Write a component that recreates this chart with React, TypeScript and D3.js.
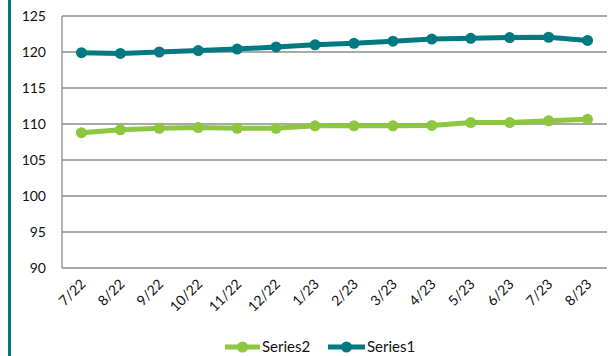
import React from "react";
import * as d3 from "d3";

const categories = ["7/22","8/22","9/22","10/22","11/22","12/22","1/23","2/23","3/23","4/23","5/23","6/23","7/23","8/23"];
const series1 = [119.9,119.8,120.0,120.2,120.4,120.7,121.0,121.2,121.5,121.8,121.9,122.0,122.05,121.6];
const series2 = [108.8,109.2,109.4,109.5,109.4,109.4,109.75,109.75,109.75,109.8,110.2,110.2,110.45,110.65];
const yTicks = [90,95,100,105,110,115,120,125];

const W = 608, H = 356;
const left = 62, right = 607, top = 16, bottom = 268;
const teal = "#007A80";
const green = "#8DC63F";
const font = "'Lato', 'Open Sans', sans-serif";

export default function App() {
  const x = d3.scaleBand<string>().domain(categories).range([left, right]);
  const y = d3.scaleLinear().domain([90, 125]).range([bottom, top]);
  const cx = (c: string) => (x(c) as number) + x.bandwidth() / 2;
  const line = d3.line<number>().x((_, i) => cx(categories[i])).y(d => y(d));
  const series = [
    { name: "Series2", color: green, values: series2 },
    { name: "Series1", color: teal, values: series1 },
  ];
  const legend = [
    { name: "Series2", color: green, x0: 225, x1: 260, tx: 262 },
    { name: "Series1", color: teal, x0: 328, x1: 365, tx: 367 },
  ];
  return (
    <svg width={W} height={H} style={{ position: "absolute", left: 0, top: 0, background: "#fff" }} fontFamily={font}>
      <rect x={8} y={0} width={3} height={H} fill={teal} />
      {yTicks.map(t => (
        <g key={t}>
          <line x1={left} x2={right} y1={y(t)} y2={y(t)} stroke="#8c8c8c" strokeWidth={1.3} />
          <text x={46} y={y(t)} dy="0.35em" textAnchor="end" fontSize={14} fill="#111">{t}</text>
        </g>
      ))}
      <line x1={left} x2={left} y1={top} y2={bottom} stroke="#8c8c8c" strokeWidth={1.3} />
      {categories.map(c => (
        <text key={c} transform={`translate(${cx(c) + 5},${bottom + 17}) rotate(-45)`} textAnchor="end" fontSize={14} fill="#111">{c}</text>
      ))}
      {series.map(s => (
        <g key={s.name}>
          <path d={line(s.values) as string} fill="none" stroke={s.color} strokeWidth={5} strokeLinejoin="round" />
          {s.values.map((v, i) => (
            <circle key={i} cx={cx(categories[i])} cy={y(v)} r={5.5} fill={s.color} />
          ))}
        </g>
      ))}
      {legend.map(l => (
        <g key={l.name}>
          <line x1={l.x0} x2={l.x1} y1={347} y2={347} stroke={l.color} strokeWidth={5} />
          <circle cx={(l.x0 + l.x1) / 2} cy={347} r={5.5} fill={l.color} />
          <text x={l.tx} y={347} dy="0.35em" fontSize={15} fill="#111">{l.name}</text>
        </g>
      ))}
    </svg>
  );
}
